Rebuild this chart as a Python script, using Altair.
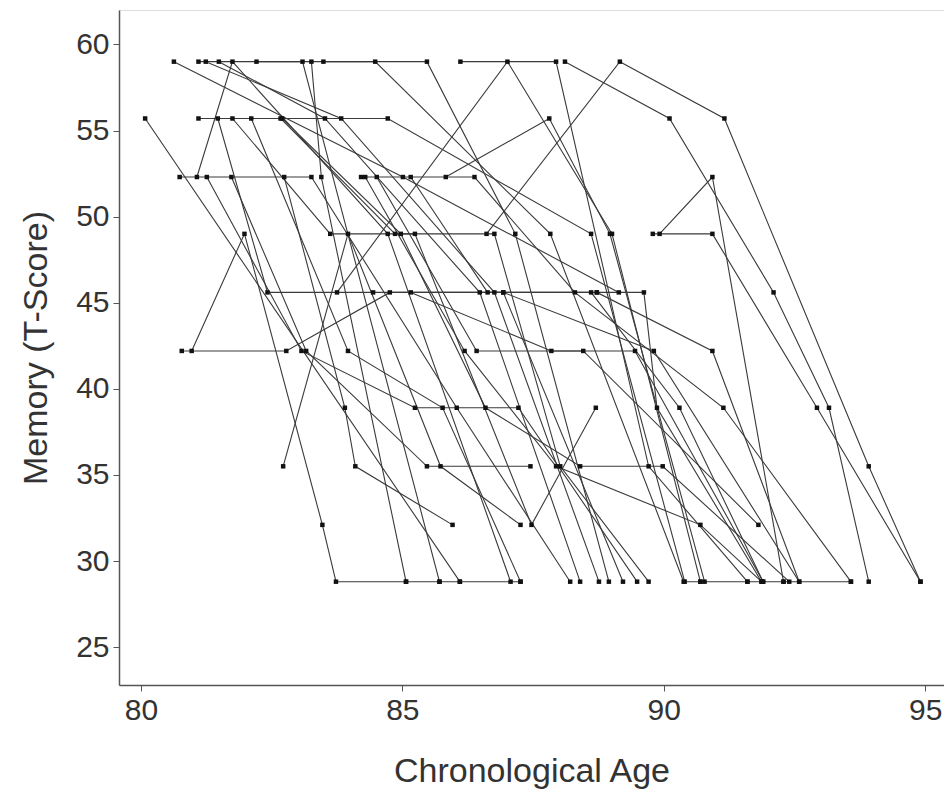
import altair as alt
import pandas as pd

# One entry per observation: subject id, chronological age, memory T-score
subject = [
    1, 1, 1,
    2, 2, 2,
    3, 3, 3, 3,
    4, 4, 4, 4,
    5, 5, 5, 5,
    6, 6, 6, 6,
    7, 7, 7, 7,
    8, 8, 8, 8,
    9, 9, 9, 9,
    10, 10, 10, 10,
    11, 11, 11, 11, 11,
    12, 12, 12, 12, 12,
    13, 13, 13, 13, 13,
    14, 14, 14, 14, 14,
    15, 15, 15, 15,
    16, 16, 16, 16,
    17, 17, 17, 17,
    18, 18, 18, 18, 18,
    19, 19, 19, 19, 19, 19,
    20, 20, 20, 20, 20,
    21, 21, 21, 21, 21,
    22, 22, 22, 22, 22,
    23, 23, 23, 23,
    24, 24, 24, 24, 24,
    25, 25, 25, 25, 25, 25,
    26, 26, 26, 26, 26,
    27, 27, 27, 27,
    28, 28, 28, 28,
    29, 29, 29, 29, 29,
    30, 30, 30, 30, 30,
    31, 31, 31, 31,
    32, 32, 32, 32, 32,
    33, 33, 33, 33,
    34, 34, 34, 34,
    35, 35, 35, 35,
    36, 36, 36,
]

age = [
    80.08, 86.10, 87.26,
    80.63, 85.01, 89.14,
    81.07, 81.75, 84.72, 87.07,
    80.74, 83.26, 86.04, 88.21,
    81.10, 83.09, 85.71, 86.10,
    81.24, 83.83, 86.76, 88.76,
    81.49, 83.52, 86.48, 88.40,
    82.21, 84.48, 87.83, 90.38,
    83.26, 83.45, 85.07, 85.71,
    83.49, 85.47, 87.16, 88.95,
    86.11, 87.94, 89.71, 91.60, 92.29,
    83.75, 87.01, 89.01, 90.70, 91.60,
    88.11, 90.11, 92.10, 93.16, 93.92,
    86.61, 89.16, 91.16, 93.92, 94.91,
    89.79, 90.93, 92.93, 94.91,
    89.92, 90.93, 92.29, 93.58,
    85.83, 87.81, 88.97, 90.78,
    80.97, 81.98, 83.47, 83.73, 85.07,
    80.78, 82.78, 84.76, 88.61, 90.30, 91.90,
    81.10, 84.72, 88.61, 90.40, 90.70,
    81.47, 82.42, 84.44, 86.93, 89.22,
    81.75, 83.62, 85.24, 87.47, 88.70,
    82.11, 83.96, 85.77, 87.26,
    82.67, 84.86, 86.76, 88.02, 89.71,
    82.70, 84.97, 86.59, 88.40, 89.98, 92.40,
    81.26, 83.07, 85.24, 87.22, 89.49,
    81.73, 83.16, 85.47, 87.45,
    82.74, 83.90, 84.10, 85.96,
    84.21, 86.38, 88.30, 91.14, 93.58,
    84.29, 86.19, 87.94, 90.70, 91.87,
    84.51, 86.42, 88.46, 91.81,
    85.16, 86.63, 88.72, 90.93, 92.59,
    82.72, 83.96, 85.73, 87.26,
    85.16, 87.85, 89.45, 91.90,
    88.72, 89.62, 89.87, 91.87,
    86.93, 89.81, 92.59,
]

score = [
    55.7, 28.8, 28.8,
    59.0, 52.3, 45.6,
    52.3, 59.0, 49.0, 28.8,
    52.3, 52.3, 38.9, 28.8,
    59.0, 59.0, 28.8, 28.8,
    59.0, 55.7, 45.6, 28.8,
    59.0, 55.7, 45.6, 28.8,
    59.0, 59.0, 49.0, 28.8,
    59.0, 52.3, 28.8, 28.8,
    59.0, 59.0, 49.0, 28.8,
    59.0, 59.0, 35.5, 28.8, 28.8,
    45.6, 59.0, 49.0, 28.8, 28.8,
    59.0, 55.7, 45.6, 38.9, 28.8,
    49.0, 59.0, 55.7, 35.5, 28.8,
    49.0, 49.0, 38.9, 28.8,
    49.0, 52.3, 28.8, 28.8,
    52.3, 55.7, 49.0, 28.8,
    42.2, 49.0, 32.1, 28.8, 28.8,
    42.2, 42.2, 45.6, 45.6, 38.9, 28.8,
    55.7, 55.7, 49.0, 28.8, 28.8,
    55.7, 45.6, 45.6, 45.6, 28.8,
    55.7, 49.0, 49.0, 32.1, 38.9,
    55.7, 42.2, 38.9, 28.8,
    55.7, 49.0, 49.0, 35.5, 28.8,
    55.7, 49.0, 38.9, 35.5, 35.5, 28.8,
    52.3, 42.2, 38.9, 38.9, 28.8,
    52.3, 42.2, 35.5, 35.5,
    52.3, 38.9, 35.5, 32.1,
    52.3, 52.3, 45.6, 38.9, 28.8,
    52.3, 42.2, 35.5, 32.1, 28.8,
    52.3, 42.2, 42.2, 32.1,
    52.3, 45.6, 45.6, 42.2, 28.8,
    35.5, 49.0, 35.5, 32.1,
    45.6, 42.2, 42.2, 28.8,
    45.6, 45.6, 38.9, 28.8,
    45.6, 42.2, 28.8,
]

x_ticks = [80, 85, 90, 95]
y_ticks = [25, 30, 35, 40, 45, 50, 55, 60]

df = pd.DataFrame({"subject": subject, "age": age, "score": score})

FONT = "Liberation Sans"
TXT = "#333333"

x_enc = alt.X(
    "age:Q",
    scale=alt.Scale(domain=[79.58, 95.36], nice=False, zero=False),
    axis=alt.Axis(
        values=x_ticks, title="Chronological Age", grid=False,
        labelFontSize=30, titleFontSize=34, labelFont=FONT, titleFont=FONT,
        labelColor=TXT, titleColor=TXT, titleFontWeight="normal",
        domainColor="#555555", domainWidth=1.5, tickColor="#555555",
        tickSize=6, labelPadding=4, titlePadding=29,
    ),
)
y_enc = alt.Y(
    "score:Q",
    scale=alt.Scale(domain=[22.8, 62.0], nice=False, zero=False),
    axis=alt.Axis(
        values=y_ticks, title="Memory (T-Score)", grid=False,
        labelFontSize=30, titleFontSize=34, labelFont=FONT, titleFont=FONT,
        labelColor=TXT, titleColor=TXT, titleFontWeight="normal",
        domainColor="#555555", domainWidth=1.5, tickColor="#555555",
        tickSize=6, labelPadding=4, titlePadding=22,
    ),
)

lines = alt.Chart(df).mark_line(color="#3a3a3a", strokeWidth=1.1).encode(
    x=x_enc, y=y_enc, detail="subject:N", order="age:Q"
)
points = alt.Chart(df).mark_point(
    shape="square", filled=True, size=20, color="#111111", opacity=1
).encode(x=x_enc, y=y_enc)

chart = (
    alt.layer(lines, points)
    .properties(
        width=825, height=675,
        autosize=alt.AutoSizeParams(type="none"),
        padding={"left": 111, "top": 2, "right": 0, "bottom": 104},
    )
    .configure_view(stroke=None)
    .configure(background="white")
)

chart.save("out.html", embed_options={"renderer": "svg", "actions": False})
